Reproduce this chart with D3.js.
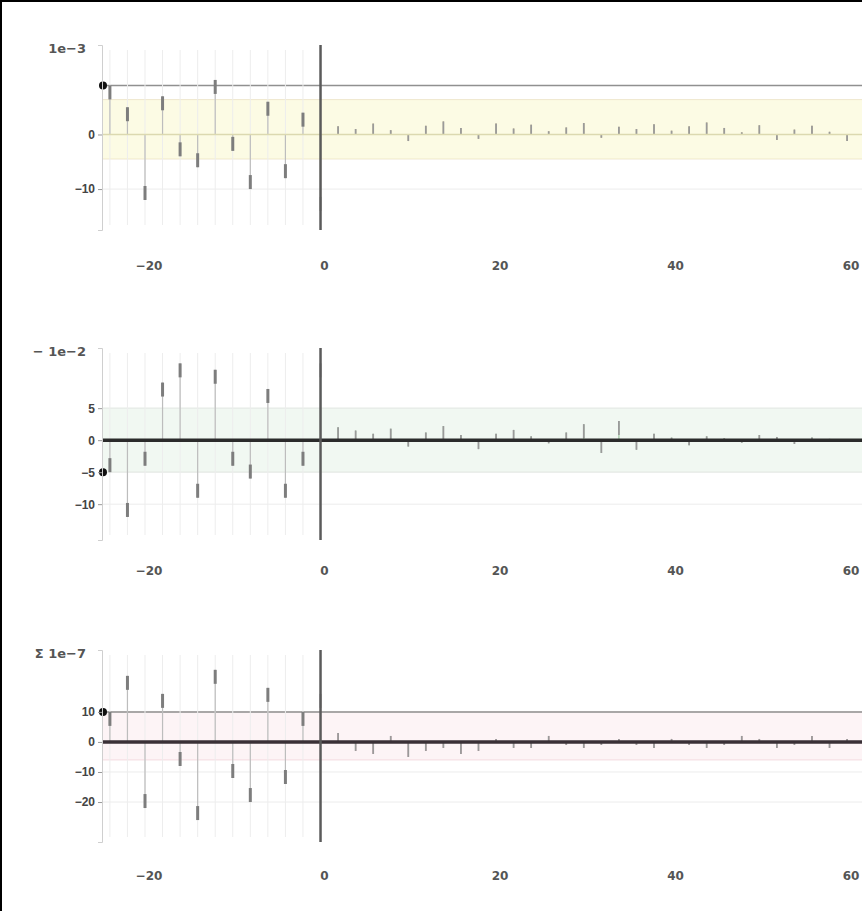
<!DOCTYPE html>
<html>
<head>
<meta charset="utf-8">
<script src="https://cdn.jsdelivr.net/npm/d3@7"></script>
<style>
  body { margin: 0; background: #fff; }
  svg { display: block; font-family: "DejaVu Sans", sans-serif; }
</style>
</head>
<body>
<div id="chart"></div>
<script>
// lags shared by the three panels
const lagTicks = [-20, 0, 20, 40, 60];
const leftLags = [-24, -22, -20, -18, -16, -14, -12, -10, -8, -6, -4, -2, 0];
const rightLags = [2, 4, 6, 8, 10, 12, 14, 16, 18, 20, 22, 24, 26, 28, 30,
  32, 34, 36, 38, 40, 42, 44, 46, 48, 50, 52, 54, 56, 58, 60];

// panel 1
const p1Left = [9, 5, -12, 7, -4, -6, 10, -3, -10, 6, -8, 4, -14];
const p1Right = [1.5, 1, 2, 0.8, -1.2, 1.6, 2.4, 1.2, -0.8, 2, 1.1, 1.8, 0.6, 1.3,
  2.1, -0.6, 1.4, 1, 1.9, 0.7, 1.5, 2.2, 1.2, 0.4, 1.7, -1, 0.9, 1.6, 0.5, -1.2];
const p1Ticks = [0, -10];
const p1Band = [-4.5, 6.4];
const p1Ref = 9;

// panel 2
const p2Left = [-5, -12, -4, 9, 12, -9, 11, -4, -6, 8, -9, -4, 12];
const p2Right = [2, 1.5, 1, 1.8, -1, 1.2, 2.2, 0.8, -1.4, 1, 1.6, 0.6, -0.5, 1.2,
  2.5, -2, 3, -1.5, 1, 0.4, -0.8, 0.6, 0.3, -0.4, 0.8, 0.5, -0.6, 0.4, 0.2, -0.3];
const p2Ticks = [5, 0, -5, -10];
const p2Band = [-5, 5];

// panel 3
const p3Left = [10, 22, -22, 16, -8, -26, 24, -12, -20, 18, -14, 10, 16];
const p3Right = [3, -3, -4, 2, -5, -3, -2, -4, -3, 1, -2, -2, 2, -1, -2,
  -1, 1, -1, -2, 1, -1, -2, -1, 2, 1, -2, -1, 2, -2, 1];
const p3Ticks = [10, 0, -10, -20];
const p3Band = [-6, 10];

const panels = [
  { top: 45, bottom: 230, dom: [-17.5, 16.4], ticks: p1Ticks, left: p1Left, right: p1Right,
    band: p1Band, fill: '#fcfbe4', color: '#cdbb7e', ref: p1Ref, title: '1e\u22123', zeroW: 1.5, zeroC: '#dcd9b0', labelY: 265 },
  { top: 348, bottom: 540, dom: [-15.6, 14.4], ticks: p2Ticks, left: p2Left, right: p2Right,
    band: p2Band, fill: '#f1f8f2', color: '#9cc6a0', ref: null, title: '\u2212 1e\u22122', zeroW: 3.5, zeroC: '#2b2b2b', labelY: 570 },
  { top: 650, bottom: 842, dom: [-33.3, 30.6], ticks: p3Ticks, left: p3Left, right: p3Right,
    band: p3Band, fill: '#fdf4f6', color: '#dc98a6', ref: 10, title: '\u03a3 1e\u22127', zeroW: 3.5, zeroC: '#3a3036', labelY: 875 }
];

const W = 862, H = 911;
const svg = d3.select('#chart').append('svg').attr('width', W).attr('height', H);

const x = d3.scaleLinear().domain([-24.9, 61.7]).range([102, 862]);

panels.forEach((p) => {
  const y = d3.scaleLinear().domain(p.dom).range([p.bottom, p.top]);
  const g = svg.append('g');

  // shaded band
  g.append('rect')
    .attr('x', x(-24.9)).attr('width', W - x(-24.9))
    .attr('y', y(p.band[1])).attr('height', y(p.band[0]) - y(p.band[1]))
    .attr('fill', p.fill);

  // band edges
  p.band.forEach((b) => {
    g.append('line')
      .attr('x1', x(-24.9)).attr('x2', W)
      .attr('y1', y(b)).attr('y2', y(b))
      .attr('stroke', p.color).attr('stroke-opacity', 0.3).attr('stroke-width', 1);
  });

  // light grid at ticks
  p.ticks.forEach((t) => {
    if (t === 0) return;
    g.append('line')
      .attr('x1', x(-24.9)).attr('x2', W)
      .attr('y1', y(t)).attr('y2', y(t))
      .attr('stroke', '#ececec').attr('stroke-width', 1);
  });

  // reference line
  if (p.ref !== null) {
    g.append('line')
      .attr('x1', x(-24.9)).attr('x2', W)
      .attr('y1', y(p.ref)).attr('y2', y(p.ref))
      .attr('stroke', '#909090').attr('stroke-width', 1.5);
  }

  // faint full-height guides on the negative lags
  g.selectAll('line.guide').data(leftLags.filter((l) => l < 0)).enter().append('line')
    .attr('class', 'guide')
    .attr('x1', (d) => x(d)).attr('x2', (d) => x(d))
    .attr('y1', p.top + 5).attr('y2', p.bottom - 5)
    .attr('stroke', '#ededed').attr('stroke-width', 1);

  // stems
  const stems = leftLags.map((l, i) => ({ lag: l, v: p.left[i] }))
    .concat(rightLags.map((l, i) => ({ lag: l, v: p.right[i] })));

  g.selectAll('line.stem').data(stems).enter().append('line')
    .attr('class', 'stem')
    .attr('x1', (d) => x(d.lag)).attr('x2', (d) => x(d.lag))
    .attr('y1', y(0)).attr('y2', (d) => y(d.v))
    .attr('stroke', (d) => (d.lag < 0 ? '#bdbdbd' : p.color))
    .attr('stroke-width', 1.2);

  // stem heads
  g.selectAll('line.head').data(stems).enter().append('line')
    .attr('class', 'head')
    .attr('x1', (d) => x(d.lag)).attr('x2', (d) => x(d.lag))
    .attr('y1', (d) => y(d.v) + (d.v > 0 ? 1 : -1) * Math.min(Math.abs(y(d.v) - y(0)), 14))
    .attr('y2', (d) => y(d.v))
    .attr('stroke', (d) => (d.lag < 0 ? '#7d7d7d' : '#9a9a9a'))
    .attr('stroke-width', (d) => (d.lag < 0 ? 3 : 1.8));

  // zero line
  g.append('line')
    .attr('x1', x(-24.9)).attr('x2', W)
    .attr('y1', y(0)).attr('y2', y(0))
    .attr('stroke', p.zeroC).attr('stroke-width', p.zeroW);

  // first-lag marker
  g.append('circle')
    .attr('cx', x(-24.9) + 1).attr('cy', y(p.left[0]))
    .attr('r', 4).attr('fill', '#111');

  // lag-0 line
  g.append('line')
    .attr('x1', x(0)).attr('x2', x(0))
    .attr('y1', p.top).attr('y2', p.bottom)
    .attr('stroke', '#5a5a5a').attr('stroke-width', 2.5);

  // y axis
  const yAxis = g.append('g')
    .attr('transform', `translate(${x(-24.9)},0)`)
    .call(d3.axisLeft(y).tickValues(p.ticks).tickSize(4).tickFormat((d) => (d < 0 ? '\u2212' + Math.abs(d) : d)));
  yAxis.select('.domain').attr('stroke', '#cfcfcf');
  yAxis.selectAll('.tick line').attr('stroke', '#999');
  yAxis.selectAll('text').attr('fill', '#444').style('font-size', '12px').style('font-weight', 'bold');

  // title / exponent text
  g.append('text')
    .attr('x', 86).attr('y', p.top + 8)
    .attr('text-anchor', 'end')
    .attr('fill', '#555')
    .style('font-size', '13px')
    .style('font-weight', 'bold')
    .text(p.title);

  // x tick labels
  g.selectAll('text.xlab').data(lagTicks).enter().append('text')
    .attr('class', 'xlab')
    .attr('x', (d) => x(d) + 4)
    .attr('y', p.labelY + 5)
    .attr('text-anchor', 'middle')
    .attr('fill', '#555')
    .style('font-size', '12px')
    .style('font-weight', 'bold')
    .text((d) => (d < 0 ? '\u2212' + Math.abs(d) : d));
});

// outer frame
svg.append('rect')
  .attr('x', 1).attr('y', 1)
  .attr('width', W + 10).attr('height', H + 10)
  .attr('fill', 'none')
  .attr('stroke', '#000').attr('stroke-width', 2);
</script>
</body>
</html>
